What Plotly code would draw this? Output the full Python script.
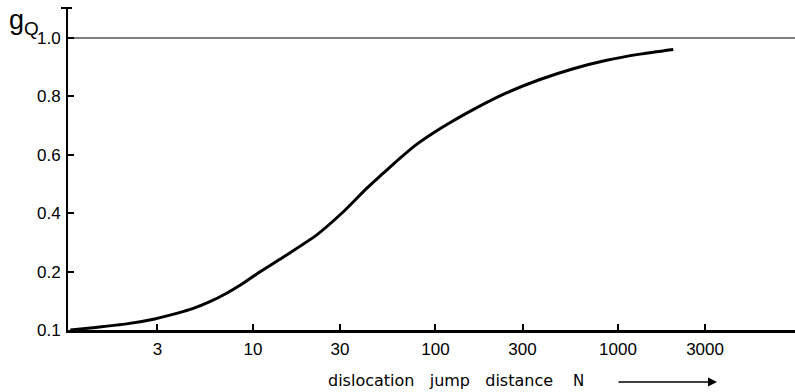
import plotly.graph_objects as go

# Jump distance N (log scale) and the fraction g_Q
jump_distance = [1.0, 1.33, 2.03, 2.9, 3.82, 4.71, 5.81, 7.18, 8.85, 10.5,
                 14.7, 22.3, 31.3, 42, 51.8, 63.8, 78.9, 97.3, 120, 161,
                 245, 374, 569, 867, 1321, 2009]
g_q = [0.0, 0.008, 0.021, 0.038, 0.057, 0.074, 0.097, 0.126, 0.160, 0.192,
       0.250, 0.325, 0.405, 0.485, 0.537, 0.588, 0.636, 0.675, 0.710, 0.755,
       0.812, 0.858, 0.895, 0.924, 0.945, 0.961]

x_tick_vals = [3, 10, 30, 100, 300, 1000, 3000]
x_tick_text = ["3", "10", "30", "100", "300", "1000", "3000"]
y_tick_vals = [0.0, 0.2, 0.4, 0.6, 0.8, 1.0]
y_tick_text = ["0.1", "0.2", "0.4", "0.6", "0.8", "1.0"]

W, H = 795, 392
L, R, T, B = 68, 0, 8, 62

fig = go.Figure()
fig.add_trace(go.Scatter(
    x=jump_distance, y=g_q, mode="lines",
    line=dict(color="black", width=3, shape="spline", smoothing=0.6),
    hoverinfo="skip", showlegend=False,
))

tick_font = dict(family="Liberation Sans", size=17, color="black")

fig.update_xaxes(
    type="log", range=[-0.013, 3.97],
    tickvals=x_tick_vals, ticktext=x_tick_text,
    ticks="inside", ticklen=6, tickwidth=1.5, tickcolor="black",
    showline=True, linecolor="black", linewidth=2.5,
    showgrid=False, zeroline=False, tickfont=tick_font,
    ticklabelstandoff=2,
)
fig.update_yaxes(
    range=[0, 1.103],
    tickvals=y_tick_vals, ticktext=y_tick_text,
    ticks="inside", ticklen=6, tickwidth=1.5, tickcolor="black",
    showline=True, linecolor="black", linewidth=2,
    showgrid=False, zeroline=False, tickfont=tick_font,
    ticklabelstandoff=2,
)

# reference line at g = 1.0
fig.add_shape(type="line", xref="paper", x0=0, x1=1, yref="y", y0=1.0, y1=1.0,
              line=dict(color="#555555", width=1.5), layer="below")
# small cap on top of the vertical axis
fig.add_shape(type="line", xref="paper", yref="paper",
              x0=-7 / (W - L - R), x1=4 / (W - L - R), y0=1, y1=1,
              line=dict(color="black", width=2))

plot_w = W - L - R
plot_h = H - T - B


def px_x(px):
    return (px - L) / plot_w


def px_y(py):
    return (H - B - py) / plot_h


# axis labels
fig.add_annotation(
    text="g<sub>Q</sub>", xref="paper", yref="paper",
    x=px_x(7), y=px_y(3), xanchor="left", yanchor="top", showarrow=False,
    font=dict(family="Liberation Sans", size=27, color="black"),
)
fig.add_annotation(
    text="dislocation&nbsp;&nbsp;&nbsp;jump&nbsp;&nbsp;&nbsp;distance",
    xref="paper", yref="paper", x=px_x(440), y=px_y(381),
    xanchor="center", yanchor="middle", showarrow=False,
    font=dict(family="DejaVu Sans", size=16, color="black"),
)
fig.add_annotation(
    text="N", xref="paper", yref="paper", x=px_x(578), y=px_y(381),
    xanchor="center", yanchor="middle", showarrow=False,
    font=dict(family="DejaVu Sans", size=15, color="black"),
)
fig.add_annotation(
    text="", xref="paper", yref="paper", axref="pixel", ayref="pixel",
    x=px_x(717), y=px_y(382), ax=-100, ay=0,
    showarrow=True, arrowhead=2, arrowsize=1.2, arrowwidth=1.5, arrowcolor="black",
)

fig.update_layout(
    width=W, height=H,
    margin=dict(l=L, r=R, t=T, b=B),
    paper_bgcolor="white", plot_bgcolor="white",
)

fig.write_html("out.html")
